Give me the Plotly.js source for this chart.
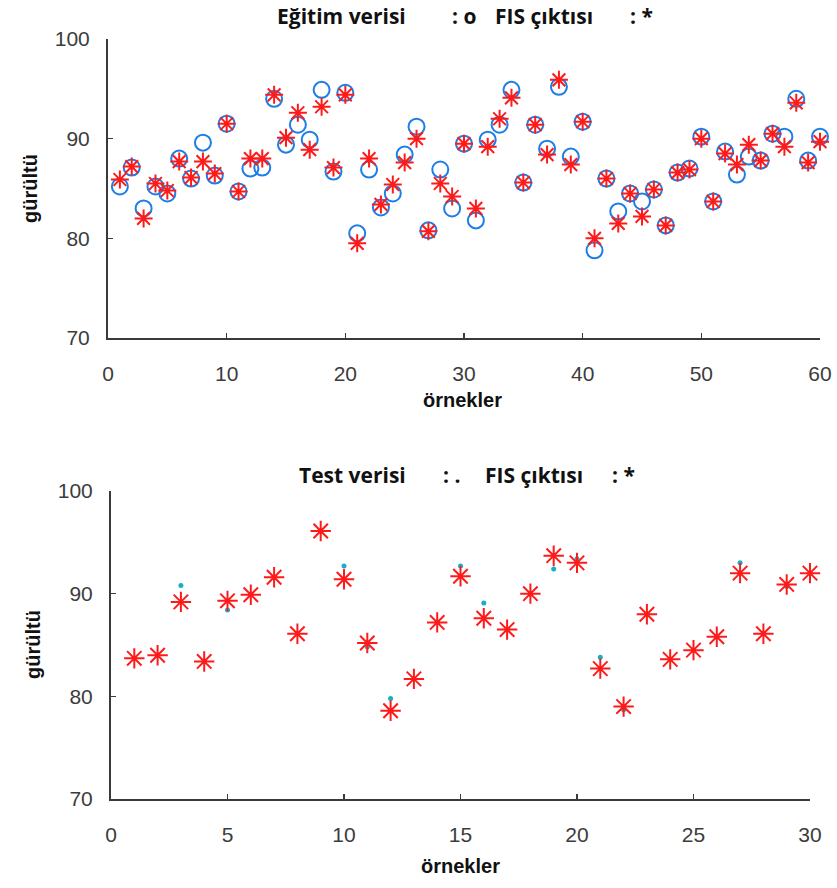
<!DOCTYPE html>
<html>
<head>
<meta charset="utf-8">
<script src="https://cdn.plot.ly/plotly-3.0.1.min.js"></script>
<style>html,body{margin:0;padding:0;background:#fff;}#chart{width:837px;height:888px;}</style>
</head>
<body>
<div id="chart"></div>
<script>
// Training data (Eğitim verisi) and FIS output, samples 1..60
const trainX = Array.from({length: 60}, (_, i) => i + 1);
const trainData = [85.2, 87.1, 83.0, 85.2, 84.5, 88.0, 86.0, 89.6, 86.3, 91.5,
                   84.7, 87.0, 87.1, 94.0, 89.4, 91.4, 89.9, 94.9, 86.7, 94.6,
                   80.5, 86.9, 83.1, 84.5, 88.4, 91.2, 80.8, 86.9, 83.0, 89.5,
                   81.8, 89.9, 91.4, 94.9, 85.6, 91.4, 89.0, 95.2, 88.2, 91.7,
                   78.8, 86.0, 82.7, 84.5, 83.7, 84.9, 81.3, 86.6, 87.0, 90.2,
                   83.7, 88.7, 86.4, 88.2, 87.8, 90.5, 90.2, 94.0, 87.8, 90.2];
const trainFIS  = [85.9, 87.2, 82.0, 85.5, 84.8, 87.7, 86.1, 87.7, 86.5, 91.5,
                   84.7, 88.0, 88.0, 94.4, 90.1, 92.6, 88.9, 93.2, 87.1, 94.4,
                   79.5, 88.0, 83.4, 85.4, 87.6, 90.0, 80.7, 85.5, 84.2, 89.5,
                   83.0, 89.2, 92.0, 94.1, 85.6, 91.4, 88.4, 95.9, 87.4, 91.7,
                   80.0, 86.0, 81.5, 84.5, 82.2, 84.9, 81.3, 86.6, 86.9, 90.0,
                   83.7, 88.5, 87.4, 89.4, 87.8, 90.5, 89.2, 93.6, 87.6, 89.7];

// Test data (Test verisi) and FIS output, samples 1..30
const testX = Array.from({length: 30}, (_, i) => i + 1);
const testData = [83.7, 84.0, 90.8, 83.4, 88.4, 89.9, 91.6, 86.1, 96.1, 92.7,
                  84.8, 79.8, 81.7, 87.2, 92.7, 89.1, 86.5, 90.0, 92.4, 93.4,
                  83.8, 78.7, 88.0, 83.6, 84.5, 85.8, 93.0, 86.1, 90.7, 92.0];
const testFIS  = [83.7, 84.0, 89.2, 83.4, 89.3, 89.9, 91.6, 86.1, 96.1, 91.4,
                  85.2, 78.6, 81.7, 87.2, 91.7, 87.6, 86.5, 90.0, 93.7, 93.0,
                  82.7, 79.0, 88.0, 83.6, 84.5, 85.8, 92.0, 86.1, 90.9, 92.0];

// Title pieces and axis labels
const topTitleParts = ['Eğitim verisi', ': o', 'FIS çıktısı', ': *'];
const botTitleParts = ['Test verisi', ': .', 'FIS çıktısı', ': *'];
const xLabel = 'örnekler';
const yLabel = 'gürültü';

const blue = '#1c7ee6', red = '#ff1a1a', cyan = '#1aaec4';

const traces = [
  {x: trainX, y: trainData, xaxis: 'x', yaxis: 'y', mode: 'markers', type: 'scatter', cliponaxis: false,
   marker: {symbol: 'circle-open', size: 16, color: blue, line: {width: 2, color: blue}}},
  {x: trainX, y: trainFIS, xaxis: 'x', yaxis: 'y', mode: 'markers', type: 'scatter', cliponaxis: false,
   marker: {symbol: 'asterisk-open', size: 15, color: red, line: {width: 2, color: red}}},
  {x: testX, y: testData, xaxis: 'x2', yaxis: 'y2', mode: 'markers', type: 'scatter', cliponaxis: false,
   marker: {symbol: 'circle', size: 5, color: cyan}},
  {x: testX, y: testFIS, xaxis: 'x2', yaxis: 'y2', mode: 'markers', type: 'scatter', cliponaxis: false,
   marker: {symbol: 'asterisk-open', size: 17, color: red, line: {width: 2, color: red}}}
];

const W = 837, H = 888;
function axisCommon() {
  return {
    showline: true, linecolor: '#3a3a3a', linewidth: 2, mirror: false,
    showgrid: false, zeroline: false,
    ticks: 'inside', ticklen: 5, tickwidth: 1.5, tickcolor: '#3a3a3a',
    tickfont: {family: 'Liberation Sans, Arial, sans-serif', size: 21, color: '#3c3c3c'},
    automargin: false, fixedrange: true
  };
}

const titleFont = {family: 'Open Sans, sans-serif', size: 21, color: '#111'};
function piece(txt, xLeft, yMid) {
  return {text: '<b>' + txt + '</b>', x: xLeft / W, y: 1 - yMid / H, xref: 'paper', yref: 'paper',
          showarrow: false, xanchor: 'left', yanchor: 'middle', font: titleFont};
}
const topLefts = [275, 450, 493, 628];
const botLefts = [297, 441, 483, 610];

const annotations = [];
topTitleParts.forEach((t, i) => annotations.push(piece(t, topLefts[i], 16)));
botTitleParts.forEach((t, i) => annotations.push(piece(t, botLefts[i], 475)));
const labFont = {family: 'Liberation Sans, Arial, sans-serif', size: 20, color: '#111'};
annotations.push(
  {text: '<b>' + xLabel + '</b>', x: 462 / W, y: 1 - 400 / H, xref: 'paper', yref: 'paper', showarrow: false,
   xanchor: 'center', yanchor: 'middle', font: labFont},
  {text: '<b>' + xLabel + '</b>', x: 460 / W, y: 1 - 866 / H, xref: 'paper', yref: 'paper', showarrow: false,
   xanchor: 'center', yanchor: 'middle', font: labFont},
  {text: '<b>' + yLabel + '</b>', x: 30 / W, y: 1 - 189 / H, xref: 'paper', yref: 'paper', showarrow: false, textangle: -90,
   xanchor: 'center', yanchor: 'middle', font: labFont},
  {text: '<b>' + yLabel + '</b>', x: 33 / W, y: 1 - 645 / H, xref: 'paper', yref: 'paper', showarrow: false, textangle: -90,
   xanchor: 'center', yanchor: 'middle', font: labFont}
);

const layout = {
  width: W, height: H,
  margin: {l: 0, r: 0, t: 0, b: 0},
  paper_bgcolor: '#ffffff', plot_bgcolor: '#ffffff',
  showlegend: false,
  xaxis: Object.assign(axisCommon(), {domain: [108 / W, 820 / W], range: [0, 60], tickvals: [0, 10, 20, 30, 40, 50, 60], anchor: 'y', ticklabelstandoff: 16}),
  yaxis: Object.assign(axisCommon(), {domain: [1 - 338 / H, 1 - 39 / H], range: [70, 100], tickvals: [70, 80, 90, 100], anchor: 'x', ticklabelstandoff: 12}),
  xaxis2: Object.assign(axisCommon(), {domain: [111 / W, 810 / W], range: [0, 30], tickvals: [0, 5, 10, 15, 20, 25, 30], anchor: 'y2', ticklabelstandoff: 16}),
  yaxis2: Object.assign(axisCommon(), {domain: [1 - 799 / H, 1 - 491 / H], range: [70, 100], tickvals: [70, 80, 90, 100], anchor: 'x2', ticklabelstandoff: 12}),
  annotations: annotations
};

Plotly.newPlot('chart', traces, layout, {staticPlot: true, displayModeBar: false});
</script>
</body>
</html>
